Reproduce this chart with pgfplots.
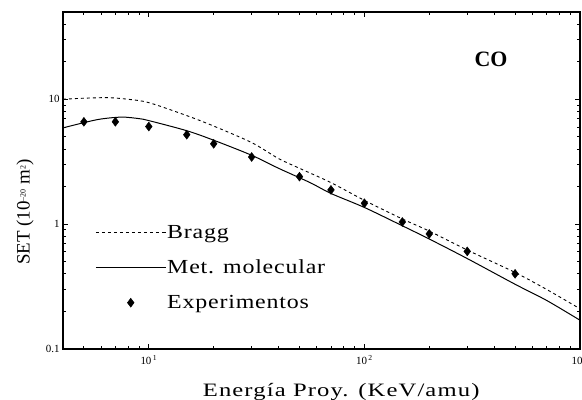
\documentclass[border=0pt]{standalone}
\usepackage{fontspec}
\setmainfont{Liberation Serif}
\newfontfamily\xlabfont[FakeStretch=1.3,LetterSpace=6]{Liberation Serif}
\newfontfamily\legfont[FakeStretch=1.2,LetterSpace=4]{Liberation Serif}
\usepackage{pgfplots}
\pgfplotsset{compat=1.18}
\begin{document}
\begin{tikzpicture}
\path[use as bounding box] (0,0) rectangle (582bp,400bp);
\begin{axis}[
 at={(63bp,51bp)}, anchor=south west,
 scale only axis, width=517bp, height=337bp,
 xmode=log, ymode=log,
 xmin=4, xmax=1000, ymin=0.1, ymax=50,
 xtick={10,100,1000},
 xticklabels={10\textsuperscript{\,1},10\textsuperscript{\,2},10\textsuperscript{\,3}},
 minor xtick={5,6,7,8,9,20,30,40,50,60,70,80,90,200,300,400,500,600,700,800,900},
 ytick={0.1,1,10}, yticklabels={0.1,1,10},
 minor ytick={0.2,0.3,0.4,0.5,0.6,0.7,0.8,0.9,2,3,4,5,6,7,8,9,20,30,40,50},
 tick align=inside,
 major tick length=5bp, minor tick length=3bp,
 every tick/.style={black, line width=0.8pt},
 axis line style={line width=1.1pt},
 ticklabel style={font=\fontsize{11}{11}\selectfont},
 xticklabel style={yshift=-3bp},
 xlabel={\xlabfont\fontsize{19}{19}\selectfont Energía Proy. (KeV/amu)},
 xlabel style={at={(axis description cs:0.538,-0.142)}, anchor=base, inner sep=0pt},
 ylabel={\fontsize{19}{19}\selectfont SET (10{\fontsize{8}{8}\selectfont\raisebox{1.1ex}{–20}} m{\fontsize{8}{8}\selectfont\raisebox{1.1ex}{2}})},
 ylabel style={at={(axis description cs:-0.0735,0.406)}, anchor=center, rotate=0, inner sep=0pt},
 legend style={draw=none, fill=none, at={(axis description cs:0.062,0.370)}, anchor=north west,
   font=\legfont\fontsize{20}{20}\selectfont, row sep=18bp, inner sep=0pt,
   nodes={inner sep=1bp}},
 legend cell align=left,
 legend image code/.code={\draw[mark repeat=2,mark phase=2,#1] plot coordinates {(0bp,0bp) (35bp,0bp) (70bp,0bp)};},
]
\addplot[black, line width=0.9pt, dash pattern=on 3bp off 3bp, smooth] coordinates {
 (4,10.0) (5,10.2) (6.5,10.3) (8,10.0) (10,9.4) (15,7.4) (20,6.1) (30,4.5) (40,3.35) (50,2.8) (70,2.15) (100,1.55) (150,1.1) (200,0.88) (300,0.62) (500,0.41) (700,0.3) (1000,0.21)
};
\addlegendentry{Bragg}
\addplot[black, line width=1pt, smooth] coordinates {
 (4,5.9) (5,6.5) (6,6.95) (7.5,7.2) (9,7.0) (10,6.75) (15,5.6) (20,4.7) (30,3.56) (40,2.8) (56,2.15) (70,1.76) (100,1.36) (150,0.97) (200,0.76) (300,0.53) (500,0.33) (700,0.245) (1000,0.17)
};
\addlegendentry{Met. molecular}
\addplot[only marks, mark=diamond*, mark size=4.5bp, black] coordinates {
 (5,6.6) (7,6.6) (10,6.05) (15,5.2) (20,4.4) (30,3.45) (50,2.4) (70,1.88) (100,1.47) (150,1.04) (200,0.835) (300,0.605) (500,0.40)
};
\addlegendentry{Experimentos}
\node[font=\fontsize{22}{22}\selectfont\bfseries] at (axis description cs:0.828,0.858) {CO};
\end{axis}
\end{tikzpicture}
\end{document}
